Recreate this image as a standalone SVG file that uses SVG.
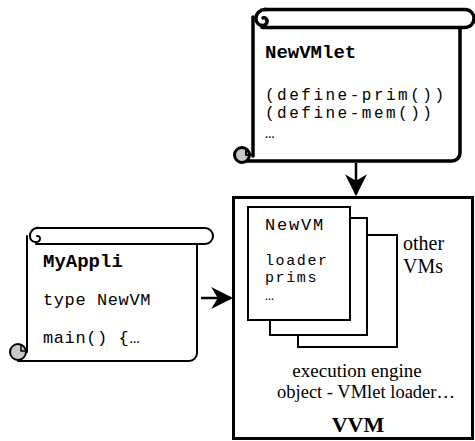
<svg xmlns="http://www.w3.org/2000/svg" width="475" height="441" viewBox="0 0 475 441">
<style>
.mono{font-family:"Liberation Mono","Courier New",monospace;fill:#000}
.serif{font-family:"Liberation Serif","Times New Roman",serif;fill:#000}
.b{font-weight:bold}
.ln{fill:none;stroke:#000;stroke-linecap:round;stroke-linejoin:round}
.curl{fill:#c8c8c8;stroke:#000}
</style>
<defs>
<marker id="ah" viewBox="0 0 10 10" refX="9" refY="5" markerWidth="22" markerHeight="22" markerUnits="userSpaceOnUse" orient="auto">
<path d="M0 0 L10 5 L0 10 L3 5 Z" fill="#000"/>
</marker>
</defs>
<rect width="475" height="441" fill="#fff"/>

<g id="newvmlet">
<path class="ln" stroke-width="3.5" d="M264 9.5 H465 A9 9 0 0 1 465 27.5 H262"/>
<path class="ln" stroke-width="3.5" d="M266 9.5 A9 9 0 0 0 256 19 A6.5 6.5 0 0 0 263 25.5 A4 4 0 0 0 267 21 A3 3 0 0 0 263 18"/>
<path class="ln" stroke-width="3.5" d="M253 17 V156"/>
<path class="ln" stroke-width="3.5" d="M460 27.5 V153 A8 8 0 0 1 452 161 H242"/>
<circle class="curl" cx="242" cy="155" r="7.5" stroke-width="3"/>
<path class="ln" stroke-width="2" d="M246 150 V155 H251"/>
<text class="mono b" x="265" y="58" font-size="19">NewVMlet</text>
<text class="mono" x="265" y="100" font-size="16" letter-spacing="2.5">(define-prim())</text>
<text class="mono" x="265" y="118" font-size="16" letter-spacing="2.5">(define-mem())</text>
<text class="mono" x="265" y="138" font-size="16">…</text>
</g>

<g id="myappli">
<path class="ln" stroke-width="2" d="M38 228 H205 A8 8 0 0 1 205 244 H36"/>
<path class="ln" stroke-width="2" d="M40 228 A8 8 0 0 0 30 236 A5.5 5.5 0 0 0 36 242 A3.5 3.5 0 0 0 40 238.5 A2.5 2.5 0 0 0 37 236"/>
<path class="ln" stroke-width="2" d="M27 236 V352"/>
<path class="ln" stroke-width="2" d="M197 244 V353 A8 8 0 0 1 189 361 H18"/>
<circle class="curl" cx="18" cy="352" r="8" stroke-width="2"/>
<path class="ln" stroke-width="1.5" d="M21 345 V351 H26"/>
<text class="mono b" x="43" y="267" font-size="19">MyAppli</text>
<text class="mono" x="43" y="305" font-size="17" letter-spacing="0.6">type NewVM</text>
<text class="mono" x="43" y="343" font-size="17" letter-spacing="0.6">main() {…</text>
</g>

<g id="vvm">
<rect x="233.5" y="197.5" width="239" height="241" fill="#fff" stroke="#000" stroke-width="3"/>
<rect x="298" y="235" width="99" height="112" fill="#fff" stroke="#000" stroke-width="2"/>
<rect x="270" y="218" width="97" height="117" fill="#fff" stroke="#000" stroke-width="2"/>
<rect x="248" y="207" width="102" height="113" fill="#fff" stroke="#000" stroke-width="2"/>
<text class="mono" x="265" y="230" font-size="17" letter-spacing="1.8">NewVM</text>
<text class="mono" x="265" y="265" font-size="15" letter-spacing="1.6">loader</text>
<text class="mono" x="265" y="282" font-size="15" letter-spacing="1.6">prims</text>
<text class="mono" x="265" y="300" font-size="15">…</text>
<text class="serif" x="403" y="250" font-size="20">other</text>
<text class="serif" x="403" y="273" font-size="20">VMs</text>
<text class="serif" x="357" y="377" font-size="19" text-anchor="middle">execution engine</text>
<text class="serif" x="366" y="398" font-size="18.5" text-anchor="middle">object - VMlet loader…</text>
<text class="serif b" x="358" y="432" font-size="22" text-anchor="middle">VVM</text>
</g>

<g id="connectors">
<line x1="356" y1="163" x2="356" y2="194" stroke="#000" stroke-width="2.5" marker-end="url(#ah)"/>
<line x1="201" y1="298" x2="231" y2="298" stroke="#000" stroke-width="2.5" marker-end="url(#ah)"/>
</g>
</svg>
